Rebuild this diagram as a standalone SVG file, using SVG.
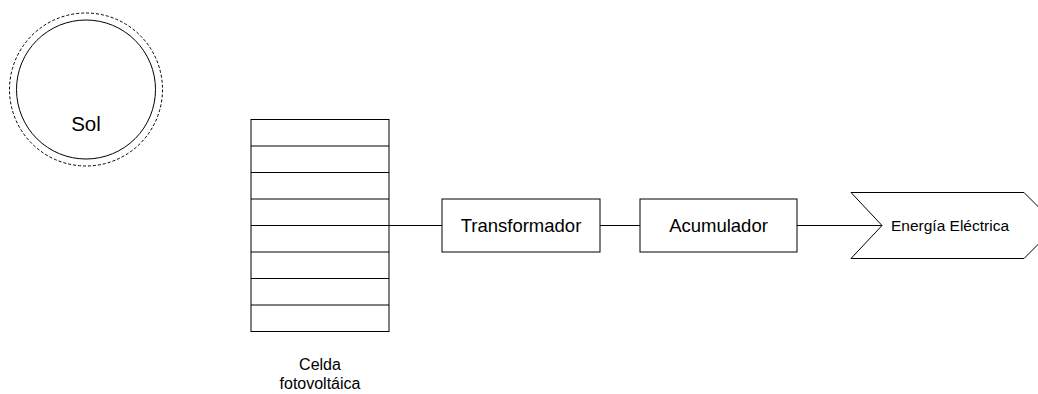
<svg xmlns="http://www.w3.org/2000/svg" width="1038" height="394" viewBox="0 0 1038 394">
<style>
.s{fill:#fff;stroke:#000;stroke-width:1}
.t{font-family:"Liberation Sans",Arial,sans-serif;fill:#000;text-anchor:middle}
.c{fill:none;stroke:#000;stroke-width:1}
</style>
<rect width="1038" height="394" fill="#fff"/>
<g id="sol">
<circle cx="86" cy="89.5" r="76.5" fill="none" stroke="#000" stroke-width="1" stroke-dasharray="3,2"/>
<circle cx="86" cy="89.5" r="69.5" class="s"/>
<text class="t" x="86" y="131" font-size="20.5">Sol</text>
</g>
<g id="celda">
<rect x="251" y="119.5" width="138" height="212" class="s"/>
<path class="c" d="M251 146H389M251 172.5H389M251 199H389M251 225.5H389M251 252H389M251 278.5H389M251 305H389"/>
<text class="t" x="320" y="370" font-size="16">Celda</text>
<text class="t" x="320" y="389" font-size="16">fotovoltáica</text>
</g>
<g id="connectors">
<path class="c" d="M389 225.5H442M600 225.5H640M797 225.5H882"/>
</g>
<g id="transformador">
<rect x="442" y="199" width="158" height="53" class="s"/>
<text class="t" x="521" y="232" font-size="18.5">Transformador</text>
</g>
<g id="acumulador">
<rect x="640" y="199" width="157" height="53" class="s"/>
<text class="t" x="718.5" y="232" font-size="18.5">Acumulador</text>
</g>
<g id="energia">
<polygon class="s" points="851,192.5 1024,192.5 1057,225.5 1024,258.5 851,258.5 882,225.5"/>
<text class="t" x="950" y="230.5" font-size="15.5">Energía Eléctrica</text>
</g>
</svg>
